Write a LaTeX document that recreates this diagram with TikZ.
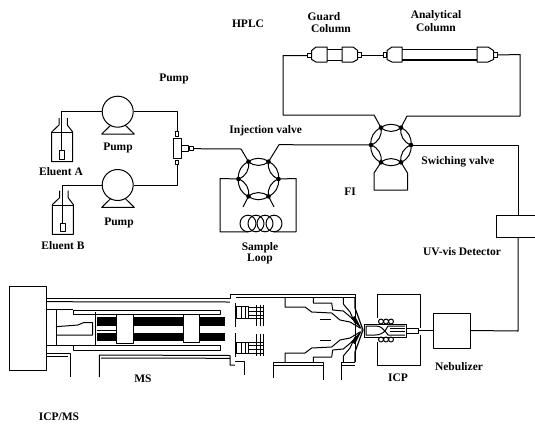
\documentclass[tikz,border=0pt]{standalone}
\usepackage{fontspec}
\setmainfont{Liberation Serif}
\usetikzlibrary{positioning}
\tikzset{
    lbl/.style={inner sep=0pt,font=\fontsize{11.5}{12.5}\selectfont\bfseries,align=center},
    pumpbody/.style={draw,circle,minimum size=31pt,inner sep=0pt},
    boxnode/.style={draw,rectangle,inner sep=0pt},
    nipple/.style={draw,rectangle,inner sep=0pt,minimum width=3.5pt,minimum height=4.5pt,fill=white},
}
\begin{document}
\begin{tikzpicture}[x=1pt,y=-1pt,line width=1pt,line join=round]
    \useasboundingbox (0,0) rectangle (535,426);

    % Pumps
    \foreach \p/\py in {pumpA/111.7,pumpB/185} {
    \node[pumpbody] (\p) at (117.7,\py) {};
    \draw (111,\py+13.3) -- (101.7,\py+22.3) -- (134.3,\py+22.3) -- (125,\py+13.3);
    }

    % Eluent bottles
    \foreach \s/\bx/\by in {sinkA/0/0,sinkB/0.7/72.6} {
    \node[boxnode,minimum width=5pt,minimum height=8.6pt] (\s) at (61.8+\bx,155+\by) {};
    \draw (59+\bx,118+\by) -- (59+\bx,125+\by) -- (51.7+\bx,132+\by) -- (51.7+\bx,161.7+\by) -- (72.7+\bx,161.7+\by) -- (72.7+\bx,132+\by) -- (67.3+\bx,125+\by) -- (67.3+\bx,118+\by);
    \draw[very thin] (51.7+\bx,132+\by) -- (72.7+\bx,132+\by);
    }

    % Tee
    \node[nipple] (teeT) at (177.2,134.2) {};
    \node[nipple] (teeB) at (177.2,162.6) {};
    \node[nipple] (teeR) at (191.3,148.7) {};
    \node[boxnode,minimum width=8.4pt,minimum height=20pt] (teeBody) at (177.5,148.3) {};
    \node[boxnode,minimum width=6.6pt,minimum height=5.7pt,fill=white] (teeArm) at (185,148.8) {};

    % Pump lines
    \draw (pumpA.west) -- (sinkA.north |- pumpA.west) -- (sinkA.north);
    \draw (pumpB.west) -- (sinkB.north |- pumpB.west) -- (sinkB.north);
    \draw (pumpA.east) -- (teeT.north |- pumpA.east) -- (teeT.north);
    \draw (pumpB.east) -- (teeB.south |- pumpB.east) -- (teeB.south);

    % Six port valves
    \foreach \v/\cx/\cy in {inj/258.5/179,sw/391/145} {
    \foreach \i/\a in {1/0,2/60,3/120,4/180,5/240,6/300}
    \coordinate (\v\i) at ([shift={(\a:20pt)}]\cx,\cy);
    \foreach \i/\j in {1/2,2/3,3/4,4/5,5/6,6/1} {
    \draw (\v\i) to[bend left=40] (\v\j);
    \draw (\v\i) to[bend right=36] (\v\j);
    }
    \foreach \i in {1,...,6}
    \fill (\v\i) circle (2.3pt);
    }

    % Sample loop
    \foreach \c in {248,256,265,274}
    \draw (\c,223.5) ellipse (8 and 8.3);
    \coordinate (loopL) at (248,231.8);
    \coordinate (loopR) at (274,231.8);

    % Valve lines
    \draw (teeR.east) -- (241,149) -- (inj3);
    \draw (inj2) -- (279,144.7) -- (sw4);
    \draw (inj4) -- (220,178.5) -- (220,231.8) -- (loopL);
    \draw (inj1) -- (296,178.5) -- (296,231.8) -- (loopR);
    \draw (inj5) -- (243,207);
    \draw (inj6) -- (274,207);
    \draw (sw5) -- (374,173) -- (374,190) -- (407.5,190) -- (407.5,173) -- (sw6);

    % Columns
    \node[nipple] (gdL) at (309.5,55.5) {};
    \node[nipple] (gdR) at (359.5,55) {};
    \node[nipple] (anL) at (385,55) {};
    \node[nipple] (anR) at (495.5,55) {};
    \draw (327,47) -- (316,47) -- (311.7,50.5) -- (311.7,59.5) -- (316,62) -- (327,62) -- cycle;
    \draw (342,47) -- (353,47) -- (357.7,50.5) -- (357.7,59.5) -- (353,62) -- (342,62) -- cycle;
    \draw (327,49.5) -- (342,49.5) (327,60.5) -- (342,60.5);
    \draw (402,47) -- (392,47) -- (387,50.5) -- (387,59.5) -- (392,62) -- (402,62) -- cycle;
    \draw (477,47) -- (488,47) -- (493.5,50.5) -- (493.5,59.5) -- (488,62) -- (477,62) -- cycle;
    \draw[line width=1.3pt] (402,49.5) -- (477,49.5) (402,60) -- (477,60);

    % Column lines
    \draw (sw3) -- (374,115) -- (283,115) -- (283,55.5) -- (gdL.west);
    \draw (gdR.east) -- (anL.west);
    \draw (anR.east) -- (520,54.5) -- (520,116) -- (407,116) -- (sw2);

    % Detector and nebulizer
    \node[boxnode,minimum width=40pt,minimum height=22pt] (det) at (516,226) {};
    \node[boxnode,minimum width=37pt,minimum height=35pt] (neb) at (451.5,330.5) {};
    \draw (sw1) -- (518,145) -- (518,215);
    \draw (518,237) -- (518,331) -- (neb.east);

    % ICP box and torch
    \draw (377,318) -- (377,294) -- (420,294) -- (420,328);
    \draw (377,342) -- (377,365.5) -- (420,365.5) -- (420,335);
    \node[boxnode,minimum width=42pt,minimum height=13pt] (torch) at (385,330.5) {};
    \node[boxnode,minimum width=12pt,minimum height=5pt] (tip) at (412,330.5) {};
    \draw (tip.east) -- (neb.west);
    \draw (366,326) -- (375,326) .. controls (380,326) and (383,328) .. (385,331) .. controls (383,333) and (380,335) .. (375,335) -- (366,335) -- cycle;
    \draw (385,331) -- (388,326) -- (405,326);
    \draw (385,331) -- (388,335) -- (405,335);
    \draw (390,328) -- (405,328) (390,331) -- (405,331);
    \foreach \c in {381,386,391} {
    \draw (\c,321.5) circle (2.5pt);
    \draw (\c,339.5) circle (2.5pt);
    }

    % Interface, both halves
    \foreach \flip in {1,-1} {
    \begin{scope}[shift={(0,330)},yscale=\flip]
    \draw (285,32) -- (285,23) -- (305,23) -- (311.7,18) -- (331.7,17) -- (340,10) -- (350,8) -- (360,2);
    \draw (313.3,32) -- (313.3,27) -- (331.7,27) -- (332.7,20) -- (343.3,19) -- (351.7,12) -- (360,3);
    \draw (343.3,32) -- (343.3,26) -- (350,18) -- (355,7);
    \draw[line width=1.2pt] (355,32) -- (355,22) -- (363,0);
    \fill (351,12) -- (362,0) -- (355,14) -- cycle;
    \draw (320,10.7) -- (331,10.7);
    % Ion lens
    \draw (236.7,12) rectangle (248.3,23.5);
    \draw (241,12) -- (241,23.5) (245,12) -- (245,23.5);
    \foreach \ly in {12,15,19,23}
    \draw (248,\ly) -- (264,\ly);
    \foreach \lx in {256.7,260,263.3}
    \draw (\lx,4) -- (\lx,25.5);
    \draw (235,3) -- (235,27);
    % Rod plates
    \draw (73.3,15.7) rectangle (220,20);
    \end{scope}
    }

    % Mass filter
    \draw (46,309) -- (73.3,309) (46,345) -- (73.3,345);
    \draw (56,309) -- (56,345);
    \draw (95,312) -- (95,346);
    \draw (56,326.7) -- (78,325) -- (83.3,322.7) -- (92.7,322.7) -- (92.7,335) -- (56,335);
    \fill (96.7,317.3) rectangle (225,326);
    \fill (96.7,332.7) rectangle (225,341);
    \draw (96.7,330) -- (117,330);
    \node[boxnode,fill=white,minimum width=16.5pt,minimum height=29pt] (quadA) at (125,328.8) {};
    \node[boxnode,fill=white,minimum width=15.3pt,minimum height=28.4pt] (quadB) at (191.6,328.5) {};

    % Housing
    \node[boxnode,minimum width=36.7pt,minimum height=84pt] (vac) at (27.7,328) {};
    \draw (46,298.3) -- (230,298.3) -- (230,294.3) -- (355,294.3) -- (355,362);
    \draw (46,301.7) -- (230,302);
    \draw (236,297.7) -- (355,297.7);
    \draw (46,353.3) -- (70,353.3) -- (70,377);
    \draw (46,356) -- (68,356);
    \draw (99.3,377) -- (99.3,355) -- (230,355.5) -- (230,365) -- (235,365);
    \draw (101,358) -- (230,358.3);
    \draw (235,361) -- (244,361) -- (244,375);
    \draw (273,378) -- (273,362) -- (323,362) -- (323,380);
    \draw (273,365) -- (323,365);
    \draw (341,380) -- (341,362.5) -- (355,362.5);
    \draw (341,365) -- (355,365);

    % Labels
    \node[lbl] (lblHplc) at (248,24) {HPLC};
    \node[lbl] (lblPump) at (174,79) {Pump};
    \node[lbl] (lblPumpA) at (118,148) {Pump};
    \node[lbl] (lblPumpB) at (119,223) {Pump};
    \node[lbl] (lblEluA) at (61,172) {Eluent A};
    \node[lbl] (lblEluB) at (63,246) {Eluent B};
    \node[lbl] (lblInj) at (265.7,130.7) {Injection valve};
    \node[lbl] (lblLoopA) at (260,248) {Sample};
    \node[lbl] (lblLoopB) at (260,259) {Loop};
    \node[lbl] (lblGuardA) at (324,17) {Guard};
    \node[lbl] (lblGuardB) at (331,29) {Column};
    \node[lbl] (lblAnA) at (436,16) {Analytical};
    \node[lbl] (lblAnB) at (436,28) {Column};
    \node[lbl] (lblSw) at (458,162) {Swiching valve};
    \node[lbl] (lblFi) at (350,192) {FI};
    \node[lbl] (lblUv) at (462,252) {UV-vis Detector};
    \node[lbl] (lblNeb) at (459,367) {Nebulizer};
    \node[lbl] (lblIcp) at (398,378) {ICP};
    \node[lbl] (lblMs) at (143,379) {MS};
    \node[lbl] (lblIcpMs) at (59,417) {ICP/MS};
\end{tikzpicture}
\end{document}
